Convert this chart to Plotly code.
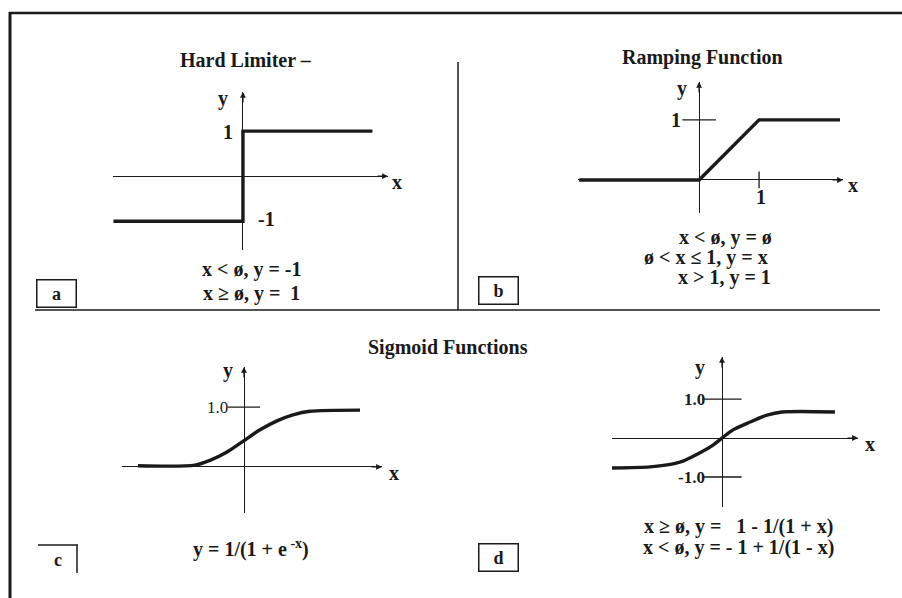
import plotly.graph_objects as go

W, H = 902, 598

# ---------------- data ----------------
hard_x = [-3.0, 0.0, 0.0, 3.0]
hard_y = [-1.0, -1.0, 1.0, 1.0]

ramp_x = [-2.0, 0.0, 1.0, 2.35]
ramp_y = [0.0, 0.0, 1.0, 1.0]

sig_x = [-5.3, -2.45, -1.7, -0.85, 0.0, 0.8, 1.65, 2.45, 3.3, 5.8]
sig_y = [0.02, 0.03, 0.11, 0.25, 0.44, 0.62, 0.77, 0.87, 0.93, 0.95]

sym_x = [-5.5, -3.6, -2.75, -1.95, -1.1, -0.45, 0.0, 0.55, 1.4, 2.25, 3.0, 5.65]
sym_y = [-0.77, -0.74, -0.69, -0.59, -0.38, -0.18, 0.0, 0.21, 0.41, 0.59, 0.67, 0.67]

a_yticks = [1, -1]
a_yticklabels = ["1", "-1"]
b_yticks = [1]
b_xticks = [1]
c_yticks = [1.0]
c_yticklabels = ["1.0"]
d_yticks = [1.0, -1.0]
d_yticklabels = ["1.0", "-1.0"]

titles = ["Hard Limiter \u2013", "Ramping Function", "Sigmoid Functions"]
eq_a = ["x < \u00f8, y = -1", "x \u2265 \u00f8, y =  1"]
eq_b = ["x < \u00f8, y = \u00f8", "\u00f8 < x \u2264 1, y = x", "x > 1, y = 1"]
eq_c = ["y = 1/(1 + e<sup> -x</sup>)"]
eq_d = ["x \u2265 \u00f8, y =   1 - 1/(1 + x)", "x < \u00f8, y = - 1 + 1/(1 - x)"]

# ---------------- helpers for layout ----------------
def fx(p):
    return p / W

def fy(p):
    return 1 - p / H

FONT = "Liberation Serif"
INK = "#1a1a1a"
EQ_SIZE = 20
TITLE_SIZE = 20

fig = go.Figure()

panels = {
    "a": dict(px=(113, 388), py=(92, 250), xr=(-3.01, 3.36), yr=(-1.64, 1.87)),
    "b": dict(px=(578, 843), py=(82, 213), xr=(-2.02, 2.4), yr=(-0.55, 1.63)),
    "c": dict(px=(122, 382), py=(367, 513), xr=(-6.1, 6.9), yr=(-0.77, 1.67)),
    "d": dict(px=(612, 858), py=(357, 507), xr=(-5.5, 6.8), yr=(-1.77, 2.08)),
}
axis_ids = {"a": ("x", "y", ""), "b": ("x2", "y2", "2"), "c": ("x3", "y3", "3"), "d": ("x4", "y4", "4")}

for k, p in panels.items():
    xa, ya, n = axis_ids[k]
    common = dict(showgrid=False, showticklabels=False, ticks="", showline=False,
                  zeroline=True, zerolinecolor=INK, zerolinewidth=1.3, fixedrange=True)
    fig.layout["xaxis" + n] = dict(domain=[fx(p["px"][0]), fx(p["px"][1])], range=list(p["xr"]),
                                   anchor=ya, **common)
    fig.layout["yaxis" + n] = dict(domain=[fy(p["py"][1]), fy(p["py"][0])], range=list(p["yr"]),
                                   anchor=xa, **common)

line_style = dict(color=INK, width=3.4)

fig.add_trace(go.Scatter(x=hard_x, y=hard_y, mode="lines", line=line_style, xaxis="x", yaxis="y"))
fig.add_trace(go.Scatter(x=ramp_x, y=ramp_y, mode="lines", line=line_style, xaxis="x2", yaxis="y2"))
fig.add_trace(go.Scatter(x=sig_x, y=sig_y, mode="lines",
                         line=dict(color=INK, width=3.4, shape="spline", smoothing=0.8),
                         xaxis="x3", yaxis="y3"))
fig.add_trace(go.Scatter(x=sym_x, y=sym_y, mode="lines",
                         line=dict(color=INK, width=3.4, shape="spline", smoothing=0.8),
                         xaxis="x4", yaxis="y4"))

# tick marks
fig.add_trace(go.Scatter(x=[0] * len(b_yticks), y=b_yticks, mode="markers",
                         marker=dict(symbol="line-ew", size=24, line=dict(color=INK, width=1.3)),
                         xaxis="x2", yaxis="y2"))
fig.add_trace(go.Scatter(x=b_xticks, y=[0] * len(b_xticks), mode="markers",
                         marker=dict(symbol="line-ns", size=12, line=dict(color=INK, width=1.3)),
                         xaxis="x2", yaxis="y2"))
fig.add_trace(go.Scatter(x=[0] * len(c_yticks), y=c_yticks, mode="markers",
                         marker=dict(symbol="line-ew", size=23, line=dict(color=INK, width=1.3)),
                         xaxis="x3", yaxis="y3"))
fig.add_trace(go.Scatter(x=[0] * len(d_yticks), y=d_yticks, mode="markers",
                         marker=dict(symbol="line-ew", size=28, line=dict(color=INK, width=1.3)),
                         xaxis="x4", yaxis="y4"))

ann = []

def add_text(text, x, y, xref, yref, size=EQ_SIZE, bold=True, xanchor="center", yanchor="middle",
             xshift=0, yshift=0):
    t = "<b>%s</b>" % text if bold else text
    ann.append(dict(text=t, x=x, y=y, xref=xref, yref=yref, showarrow=False,
                    xanchor=xanchor, yanchor=yanchor, xshift=xshift, yshift=yshift,
                    font=dict(family=FONT, size=size, color=INK)))

def add_arrow(x, y, xref, yref, ax, ay):
    ann.append(dict(text="", x=x, y=y, xref=xref, yref=yref, showarrow=True, ax=ax, ay=ay,
                    arrowhead=2, arrowsize=0.9, arrowwidth=1.3, arrowcolor=INK, standoff=0))

for k, p in panels.items():
    xa, ya, n = axis_ids[k]
    add_arrow(p["xr"][1], 0, xa, ya, -12, 0)
    add_arrow(0, p["yr"][1], xa, ya, 0, 12)

# axis labels
add_text("x", panels["a"]["xr"][1], 0, "x", "y", xshift=9, yshift=-6)
add_text("y", 0, panels["a"]["yr"][1], "x", "y", xshift=-20, yshift=-6)
add_text("x", panels["b"]["xr"][1], 0, "x2", "y2", xshift=10, yshift=-5)
add_text("y", 0, panels["b"]["yr"][1], "x2", "y2", xshift=-17, yshift=-6)
add_text("x", panels["c"]["xr"][1], 0, "x3", "y3", xshift=12, yshift=-6)
add_text("y", 0, panels["c"]["yr"][1], "x3", "y3", xshift=-16, yshift=-3)
add_text("x", panels["d"]["xr"][1], 0, "x4", "y4", xshift=12, yshift=-6)
add_text("y", 0, panels["d"]["yr"][1], "x4", "y4", xshift=-22, yshift=-10)

# tick labels
add_text(a_yticklabels[0], 0, a_yticks[0], "x", "y", xanchor="right", xshift=-8, yshift=-1)
add_text(a_yticklabels[1], 0, a_yticks[1], "x", "y", xanchor="left", xshift=13, yshift=2)
add_text("1", 0, b_yticks[0], "x2", "y2", xanchor="right", xshift=-16)
add_text("1", b_xticks[0], 0, "x2", "y2", yshift=-17, xshift=2)
add_text(c_yticklabels[0], 0, c_yticks[0], "x3", "y3", xanchor="right", xshift=-14, size=17, bold=False)
for v, lab in zip(d_yticks, d_yticklabels):
    add_text(lab, 0, v, "x4", "y4", xanchor="right", xshift=-15, size=17)

# titles
add_text(titles[0], fx(246), fy(60), "paper", "paper", size=TITLE_SIZE)
add_text(titles[1], fx(702), fy(57), "paper", "paper", size=TITLE_SIZE)
add_text(titles[2], fx(448), fy(348), "paper", "paper", size=TITLE_SIZE)

# equations
add_text(eq_a[0], fx(251), fy(270), "paper", "paper")
add_text(eq_a[1], fx(251), fy(293), "paper", "paper")
add_text(eq_b[0], fx(725), fy(238), "paper", "paper")
add_text(eq_b[1], fx(706), fy(258), "paper", "paper")
add_text(eq_b[2], fx(724), fy(277), "paper", "paper")
add_text(eq_c[0], fx(251), fy(548), "paper", "paper")
add_text(eq_d[0], fx(738), fy(526), "paper", "paper")
add_text(eq_d[1], fx(738), fy(547), "paper", "paper")

# panel tags (boxed)
for tag, (cx, cy) in zip(["a", "b", "d"], [(57, 293), (498, 290), (498, 557)]):
    ann.append(dict(text="<b>%s</b>" % tag, x=fx(cx), y=fy(cy), xref="paper", yref="paper",
                    showarrow=False, xanchor="center", yanchor="middle", width=36, height=24,
                    bordercolor=INK, borderwidth=1.5, borderpad=1,
                    font=dict(family=FONT, size=18, color=INK)))
add_text("c", fx(58), fy(560), "paper", "paper", size=18)

shapes = []
def hline(x0, x1, y, w):
    shapes.append(dict(type="line", xref="paper", yref="paper", x0=fx(x0), x1=fx(x1), y0=fy(y), y1=fy(y),
                       line=dict(color=INK, width=w)))
def vline(x, y0, y1, w):
    shapes.append(dict(type="line", xref="paper", yref="paper", x0=fx(x), x1=fx(x), y0=fy(y0), y1=fy(y1),
                       line=dict(color=INK, width=w)))

hline(9, 902, 13, 2.5)
vline(10, 12, 598, 3)
hline(35, 880, 310, 1.5)
vline(458, 62, 310, 1.5)
hline(38, 78, 545, 1.5)
vline(77, 545, 573, 1.5)

fig.update_layout(width=W, height=H, margin=dict(l=0, r=0, t=0, b=0),
                  paper_bgcolor="white", plot_bgcolor="rgba(0,0,0,0)",
                  showlegend=False, annotations=ann, shapes=shapes)

fig.write_html("out.html", config={"displayModeBar": False},
               post_script="document.body.style.margin='0';")
